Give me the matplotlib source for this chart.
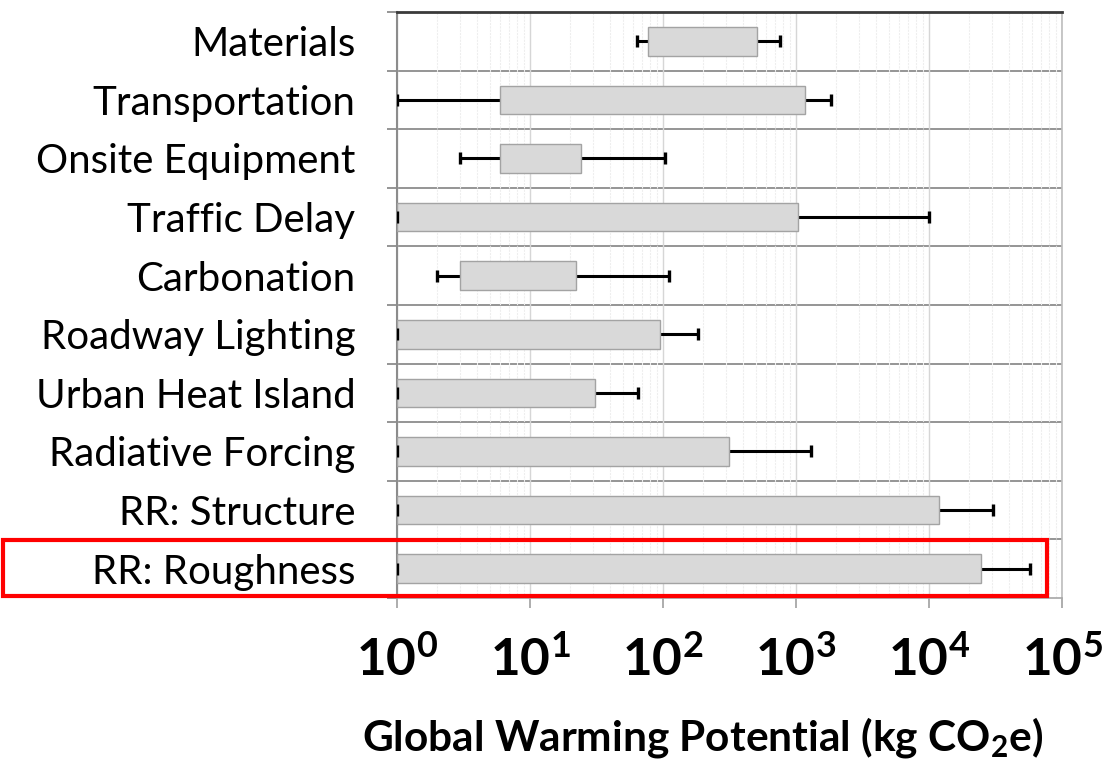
import matplotlib
matplotlib.use("Agg")
import matplotlib.pyplot as plt
from matplotlib.patches import Rectangle
import numpy as np

plt.rcParams['font.family'] = ['Lato', 'DejaVu Sans']
plt.rcParams['mathtext.fontset'] = 'custom'
plt.rcParams['mathtext.rm'] = 'Lato'
plt.rcParams['mathtext.bf'] = 'Lato:bold'

categories = ["Materials", "Transportation", "Onsite Equipment", "Traffic Delay",
              "Carbonation", "Roadway Lighting", "Urban Heat Island",
              "Radiative Forcing", "RR: Structure", "RR: Roughness"]
whisker_low = [64, 1, 3.0, 1, 2.0, 1, 1, 1, 1, 1]
bar_low = [77, 6.0, 6.0, 1, 3.0, 1, 1, 1, 1, 1]
bar_high = [510, 1170, 24, 1030, 22, 95, 31, 314, 11800, 24800]
whisker_high = [760, 1820, 103, 10000, 110, 184, 65, 1300, 30100, 57800]
xtick_values = [1, 10, 100, 1000, 10000, 100000]
xtick_labels = [r'$\mathbf{10^{0}}$', r'$\mathbf{10^{1}}$', r'$\mathbf{10^{2}}$',
                r'$\mathbf{10^{3}}$', r'$\mathbf{10^{4}}$', r'$\mathbf{10^{5}}$']

W, H = 1112, 763
fig = plt.figure(figsize=(W / 100, H / 100), dpi=100)
ax = fig.add_axes([397 / W, 1 - 598 / H, (1062 - 397) / W, (598 - 12) / H])

n = len(categories)
ypos = np.arange(n)
bl = np.array(bar_low, float)
bh = np.array(bar_high, float)
wl = np.array(whisker_low, float)
wh = np.array(whisker_high, float)

# whiskers
ax.hlines(ypos, wl, bl, color='black', lw=2.2, zorder=2)
ax.hlines(ypos, bh, wh, color='black', lw=2.2, zorder=2)
ax.plot(wh, ypos, ls='none', marker='|', ms=9, mew=2.4, color='black', zorder=2)
ax.plot(wl, ypos, ls='none', marker='|', ms=9, mew=2.4, color='black', zorder=4)
# bars
ax.barh(ypos, bh - bl, left=bl, height=0.49, color='#d9d9d9',
        edgecolor='#a3a3a3', linewidth=1.0, zorder=3)

ax.set_xscale('log')
ax.set_xlim(1, 1e5)
ax.set_ylim(n - 0.5, -0.5)

# grid
ax.set_xticks(xtick_values)
ax.set_xticklabels(xtick_labels, fontsize=37)
ax.xaxis.set_minor_locator(matplotlib.ticker.LogLocator(base=10, subs=np.arange(2, 10)))
ax.xaxis.set_minor_formatter(matplotlib.ticker.NullFormatter())
ax.grid(True, which='major', axis='x', color='#d6d6d6', lw=1.0, zorder=0)
ax.grid(True, which='minor', axis='x', color='#eeeeee', lw=0.8, ls=(0, (2, 1)), zorder=0)
ax.tick_params(axis='x', which='minor', length=0)
ax.tick_params(axis='x', which='major', length=7, width=1.2, color='#a0a0a0',
               direction='out', pad=20)

for yb in np.arange(0.5, n - 0.5, 1.0):
    ax.axhline(yb, color='#8c8c8c', lw=1.3, zorder=1)

ax.set_yticks(ypos)
ax.set_yticklabels(categories, fontsize=29)
ax.set_yticks(np.arange(-0.5, n, 1.0), minor=True)
ax.tick_params(axis='y', which='major', length=0, pad=30)
ax.tick_params(axis='y', which='minor', length=7, width=1.3, color='#8c8c8c', direction='out')

for side, col, lw in [('top', '#3a3a3a', 2.0), ('left', '#8c8c8c', 1.5),
                      ('right', '#bdbdbd', 1.2), ('bottom', '#a6a6a6', 1.2)]:
    ax.spines[side].set_color(col)
    ax.spines[side].set_linewidth(lw)

fig.text(703 / W, 1 - 737 / H, r'Global Warming Potential (kg CO$_\mathbf{2}$e)',
         fontsize=30.5, fontweight='bold', ha='center', va='center')

# red highlight box
fig.patches.append(Rectangle((3 / W, 1 - 596 / H), (1047 - 3) / W, (596 - 540) / H,
                             transform=fig.transFigure, fill=False,
                             edgecolor='#ff0000', linewidth=3.0, zorder=10))

fig.savefig('out.png', dpi=100)
